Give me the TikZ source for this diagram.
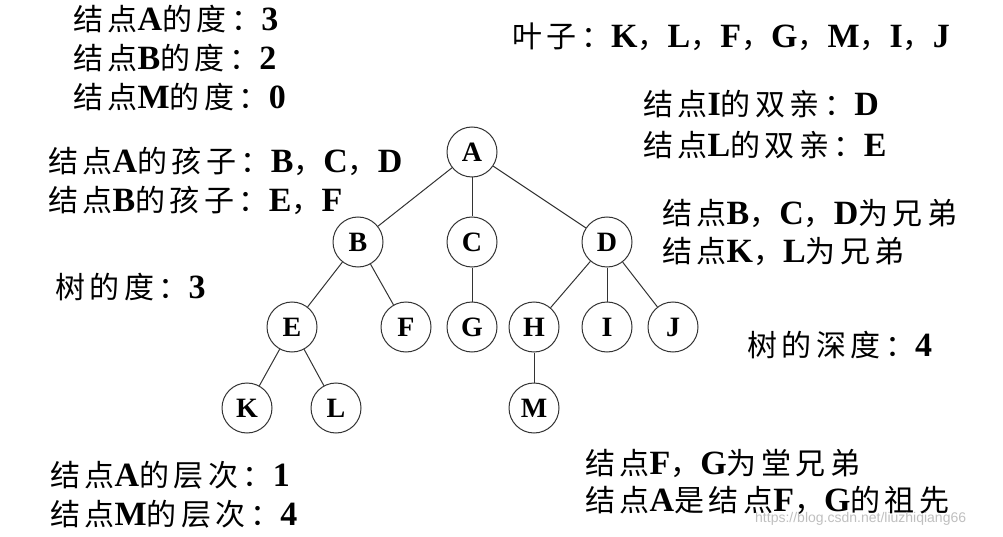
\documentclass[tikz,border=0pt]{standalone}
\usepackage{fontspec}
\setmainfont{Noto Sans CJK SC}[LetterSpace=15]
\newfontfamily\latfont{Liberation Serif}
\newfontfamily\urlfont{Liberation Sans}
\newcommand\bl[1]{{\latfont\bfseries\fontsize{34}{34}\selectfont #1}}

\begin{document}
\begin{tikzpicture}[
		x=1pt, y=-1pt,
		n/.style = {circle, draw=black!80, line width=1pt, minimum size=50, inner sep=0, font=\latfont\bfseries\fontsize{28}{28}\selectfont},
		t/.style = {anchor=west, inner sep=0, font=\fontsize{30}{30}\selectfont},
		e/.style = {draw=black!80, line width=1pt}
		]
		\useasboundingbox (0, 0) rectangle (1003, 537);
		
		% === === Nodes === ===
		\node[n]	(A)	at	(472, 152)	{A};
		
		\node[n]	(B)	at	(358, 242)	{B};
		\node[n]	(C)	at	(472, 242)	{C};
		\node[n]	(D)	at	(607, 242)	{D};
		
		\node[n]	(E)	at	(292, 327)	{E};
		\node[n]	(F)	at	(406, 327)	{F};
		\node[n]	(G)	at	(472, 327)	{G};
		\node[n]	(H)	at	(534, 327)	{H};
		\node[n]	(I)	at	(607, 327)	{I};
		\node[n]	(J)	at	(673, 327)	{J};
		
		\node[n]	(K)	at	(247, 408)	{K};
		\node[n]	(L)	at	(336, 408)	{L};
		\node[n]	(M)	at	(534, 408)	{M};
		
		% === === Lines === ===
		\draw[e]	(A)	--	(B);
		\draw[e]	(A)	--	(C);
		\draw[e]	(A)	--	(D);
		\draw[e]	(B)	--	(E);
		\draw[e]	(B)	--	(F);
		\draw[e]	(C)	--	(G);
		\draw[e]	(D)	--	(H);
		\draw[e]	(D)	--	(I);
		\draw[e]	(D)	--	(J);
		\draw[e]	(E)	--	(K);
		\draw[e]	(E)	--	(L);
		\draw[e]	(H)	--	(M);
		
		% === === Texts === ===
		\node[t]	(degA)		at	(73, 19)	{结点\bl{A}的度：\bl{3}};
		\node[t]	(degB)		at	(73, 58)	{结点\bl{B}的度：\bl{2}};
		\node[t]	(degM)		at	(73, 97)	{结点\bl{M}的度：\bl{0}};
		\node[t]	(kidA)		at	(48, 161)	{结点\bl{A}的孩子：\bl{B}，\bl{C}，\bl{D}};
		\node[t]	(kidB)		at	(48, 200)	{结点\bl{B}的孩子：\bl{E}，\bl{F}};
		\node[t]	(degT)		at	(55, 287)	{树的度：\bl{3}};
		\node[t]	(lvlA)		at	(50, 475)	{结点\bl{A}的层次：\bl{1}};
		\node[t]	(lvlM)		at	(50, 514)	{结点\bl{M}的层次：\bl{4}};
		
		\node[t]	(leaf)		at	(512, 37)	{叶子：\bl{K}，\bl{L}，\bl{F}，\bl{G}，\bl{M}，\bl{I}，\bl{J}};
		\node[t]	(parI)		at	(643, 104)	{结点\bl{I}的双亲：\bl{D}};
		\node[t]	(parL)		at	(643, 145)	{结点\bl{L}的双亲：\bl{E}};
		\node[t]	(sibBCD)	at	(662, 213)	{结点\bl{B}，\bl{C}，\bl{D}为兄弟};
		\node[t]	(sibKL)		at	(662, 251)	{结点\bl{K}，\bl{L}为兄弟};
		\node[t]	(depT)		at	(747, 345)	{树的深度：\bl{4}};
		\node[t]	(cous)		at	(585, 463)	{结点\bl{F}，\bl{G}为堂兄弟};
		\node[t]	(ance)		at	(585, 500)	{结点\bl{A}是结点\bl{F}，\bl{G}的祖先};
		
		\node[anchor=west, inner sep=0, text=black!25, font=\urlfont\fontsize{14}{14}\selectfont]
			(mark)	at	(755, 519)	{https://blog.csdn.net/liuzhiqiang66};
		
	\end{tikzpicture}
\end{document}
